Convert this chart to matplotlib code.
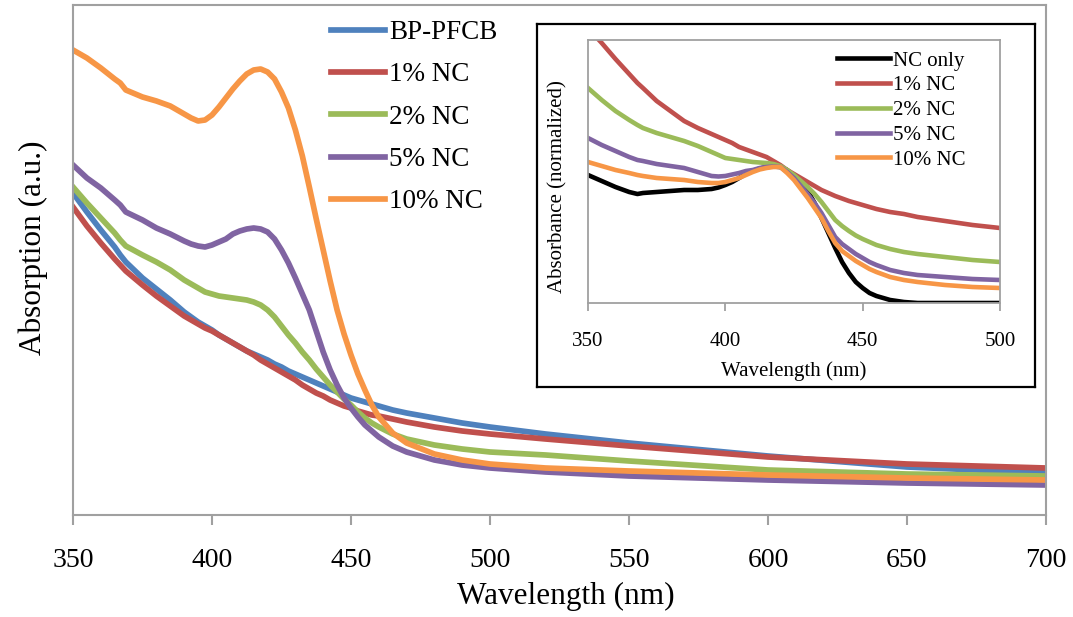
import numpy as np
import matplotlib
matplotlib.use('Agg')
import matplotlib.pyplot as plt

plt.rcParams['font.family'] = ['Liberation Serif', 'DejaVu Serif']

# ============================================
# Data (arbitrary units)
# ============================================

wl = [350, 355, 360, 365, 367, 369, 375, 380, 385,
      390, 392.5, 395, 397.5, 400, 402.5, 405, 407.5, 410, 412.5,
      415, 417.5, 420, 422.5, 425, 427.5, 430, 432.5, 435, 437.5,
      440, 442.5, 445, 447.5, 450, 452.5, 455, 457.5, 460,
      465, 470, 480, 490, 500, 520, 550, 600, 650, 700]

bp_pfcb = [322, 303, 285, 268, 260, 253, 237, 226, 215,
           203, 198, 193, 189, 185, 180, 176, 172, 168, 164,
           161, 158, 155, 151, 148, 144, 141, 138, 135, 132,
           129, 126, 123, 120, 117, 115, 113, 111, 109,
           105, 102, 97, 92, 88, 81, 72, 59, 48, 42]
nc1 = [308, 289, 272, 256, 250, 244, 230, 219, 209,
       199, 195, 191, 187, 184, 180, 176, 172, 168, 164,
       160, 155, 151, 147, 143, 139, 135, 130, 126, 122,
       119, 115, 112, 109, 107, 104, 102, 100, 99,
       96, 93, 88, 84, 81, 76, 69, 58, 51, 47]
nc2 = [328, 312, 297, 282, 275, 269, 260, 253, 245,
       235, 231, 227, 223, 221, 219, 218, 217, 216, 215,
       213, 210, 205, 198, 189, 180, 172, 163, 155, 146,
       138, 130, 123, 116, 110, 103, 97, 92, 88,
       81, 76, 70, 66, 63, 60, 54, 45, 41, 39]
nc5 = [350, 337, 327, 315, 310, 303, 295, 287, 281,
       274, 271, 269, 268, 270, 273, 276, 281, 284, 286,
       287, 286, 283, 276, 265, 252, 237, 221, 205, 184,
       163, 145, 130, 117, 107, 98, 90, 84, 78,
       69, 63, 55, 50, 47, 43, 39, 35, 32, 30]
nc10 = [465, 457, 447, 436, 432, 425, 418, 414, 409,
        401, 397, 394, 395, 400, 408, 417, 426, 434, 441,
        445, 446, 443, 436, 423, 407, 385, 359, 328, 296,
        265, 234, 205, 181, 160, 141, 125, 110, 98,
        82, 72, 61, 55, 51, 47, 44, 40, 37, 35]

main_labels = ['BP-PFCB', '1% NC', '2% NC', '5% NC', '10% NC']

# inset: normalized absorbance
wl_in = [350, 355, 360, 365, 368, 370, 375, 380, 385, 390,
         395, 397.5, 400, 402.5, 405, 407.5, 410, 412.5, 415, 417.5,
         420, 422.5, 425, 427.5, 430, 432.5, 435, 437.5, 440, 442.5,
         445, 447.5, 450, 452.5, 455,
         460, 465, 470, 480, 490, 500]

nc_only = [128, 122, 116, 111, 109, 110, 111, 112, 113, 113,
           114, 115.5, 118, 121, 125, 129, 132, 134.5, 136, 136.5,
           136, 133, 127, 120, 112, 100, 85, 70, 55, 41,
           30, 21, 15, 10, 7,
           3, 1, 0, 0, 0, 0]
in_nc1 = [275, 260, 244, 229, 220, 215, 202, 192, 182, 175,
          169, 166, 163, 160, 156, 153.5, 151, 148.5, 146, 142,
          138, 133, 129, 125, 121, 117, 113, 110, 107, 104.5,
          102, 100, 98, 96, 94,
          91, 89, 86, 82, 78, 75]
in_nc2 = [215, 203, 192, 183, 178, 175, 170, 166, 162, 157,
          151, 148, 145, 144, 143, 142, 141, 140.5, 140, 139,
          137, 133, 128, 122, 116, 109, 101, 92, 83, 77,
          72, 67.5, 64, 61, 58,
          54, 51, 49, 46, 43, 41]
in_nc5 = [165, 158, 152, 146, 143, 142, 139, 137, 135, 131,
          127, 126.5, 127, 128.5, 130, 132, 133, 135, 136, 136.5,
          136, 131, 125, 117, 109, 100, 90, 78, 66, 59,
          54, 49, 45, 41, 38,
          33, 30, 28, 26, 24, 23]
in_nc10 = [141, 137, 133, 130, 128, 127, 125, 124, 123, 121,
           120, 120, 121, 123, 125, 128, 131, 133.5, 135, 136,
           136, 130, 123, 114, 105, 95, 85, 72, 60, 52,
           47, 42, 38, 34, 31,
           26, 23, 21, 18, 16, 15]

inset_labels = ['NC only', '1% NC', '2% NC', '5% NC', '10% NC']

colors = ['#4F81BD', '#C0504D', '#9BBB59', '#8064A2', '#F79646']
axis_gray = '#A0A0A0'

# ============================================
# Figure
# ============================================
W, H = 1073, 617
fig = plt.figure(figsize=(W / 100, H / 100), dpi=100)


def box(x0, y0, x1, y1):
    # pixel box (top-left origin) -> figure fraction rect
    return [x0 / W, 1 - y1 / H, (x1 - x0) / W, (y1 - y0) / H]


ax = fig.add_axes(box(73, 5, 1046, 515))
for y, c, lab in zip([bp_pfcb, nc1, nc2, nc5, nc10], colors, main_labels):
    ax.plot(wl, y, color=c, linewidth=4.1, label=lab, solid_joinstyle='round')

ax.set_xlim(350, 700)
ax.set_ylim(0, 510)
ax.set_xticks(np.arange(350, 701, 50))
ax.set_yticks([])
for s in ax.spines.values():
    s.set_color(axis_gray)
    s.set_linewidth(1.5)
ax.tick_params(axis='x', direction='out', length=7, width=1.5, color=axis_gray,
               labelsize=20, pad=17)

ax.legend(loc='upper left', bbox_to_anchor=(331 / W, 1 - 20 / H),
          bbox_transform=fig.transFigure, frameon=False, fontsize=19.5,
          handlelength=2.0, handletextpad=0.15, labelspacing=0.64,
          borderpad=0, borderaxespad=0)

fig.text(566 / W, 1 - 596 / H, 'Wavelength (nm)', fontsize=22.5,
         ha='center', va='center')
fig.text(33 / W, 1 - 248 / H, 'Absorption (a.u.)', fontsize=22.5,
         ha='center', va='center', rotation=90)

# inset frame (black box)
frame = fig.add_axes(box(537, 24, 1035, 387))
frame.set_xticks([])
frame.set_yticks([])
frame.set_facecolor('white')
for s in frame.spines.values():
    s.set_color('black')
    s.set_linewidth(1.6)

# inset plot
axi = fig.add_axes(box(588, 40, 1000, 303))
inset_colors = ['black'] + colors[1:]
for y, c, lab in zip([nc_only, in_nc1, in_nc2, in_nc5, in_nc10], inset_colors, inset_labels):
    axi.plot(wl_in, y, color=c, linewidth=3.3, label=lab, solid_joinstyle='round')

axi.set_xlim(350, 500)
axi.set_ylim(0, 263)
axi.set_xticks([350, 400, 450, 500])
axi.set_yticks([])
for s in axi.spines.values():
    s.set_color(axis_gray)
    s.set_linewidth(1.3)
axi.tick_params(axis='x', direction='out', length=6, width=1.3, color=axis_gray,
                labelsize=15, pad=15)

axi.legend(loc='upper left', bbox_to_anchor=(837 / W, 1 - 51 / H),
           bbox_transform=fig.transFigure, frameon=False, fontsize=15,
           handlelength=2.55, handletextpad=0.15, labelspacing=0.25,
           borderpad=0, borderaxespad=0)

fig.text(794 / W, 1 - 371 / H, 'Wavelength (nm)', fontsize=15,
         ha='center', va='center')
fig.text(558 / W, 1 - 187 / H, 'Absorbance (normalized)', fontsize=15,
         ha='center', va='center', rotation=90)

fig.savefig('out.png', dpi=100)
